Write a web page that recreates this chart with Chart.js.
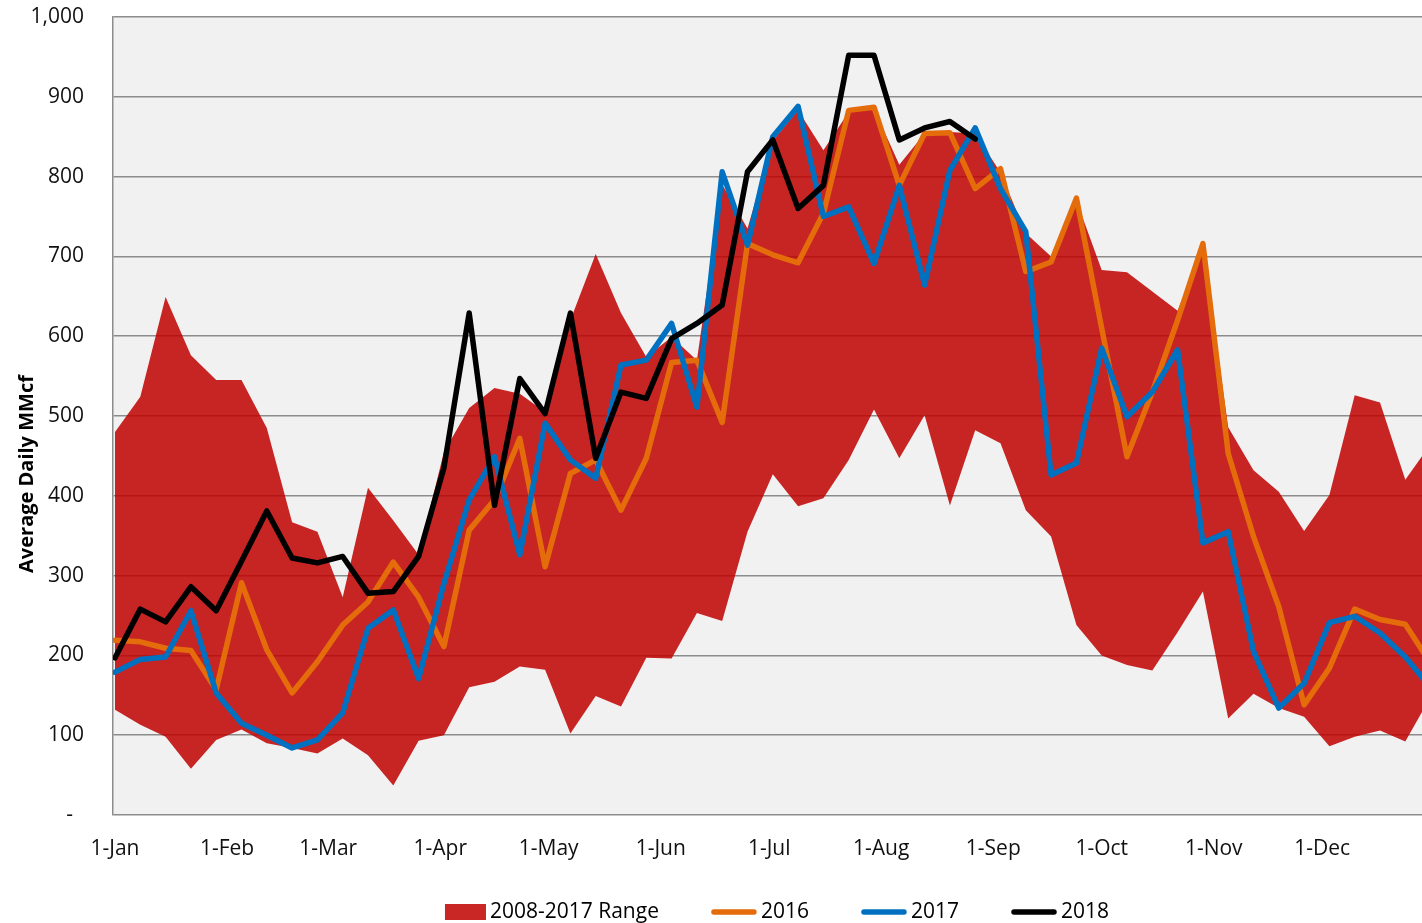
<!DOCTYPE html>
<html>
<head>
<meta charset="utf-8">
<script src="https://cdn.jsdelivr.net/npm/chart.js@4.4.1/dist/chart.umd.min.js"></script>
<style>
  html, body { margin: 0; padding: 0; background: #fff; }
  #wrap { width: 1422px; height: 923px; }
</style>
</head>
<body>
<div id="wrap"><canvas id="storageChart" width="1422" height="923"></canvas></div>
<script>
// weekly values, week 0 = 1-Jan
const rangeHigh = [480, 524, 649, 576, 545, 545, 485, 367, 355, 273, 410, 369, 326, 455, 510, 535, 528, 505, 620, 703, 629, 574, 599, 570, 790, 735, 845, 883, 833, 881, 885, 815, 854, 856, 854, 805, 729, 700, 770, 683, 680, 656, 632, 712, 486, 432, 405, 356, 401, 526, 517, 420, 465]
const rangeLow = [132, 113, 98, 58, 94, 107, 90, 84, 77, 96, 75, 37, 93, 100, 160, 167, 186, 182, 102, 149, 136, 197, 196, 253, 243, 355, 427, 387, 397, 445, 508, 447, 501, 388, 482, 466, 382, 349, 238, 200, 188, 181, 229, 280, 121, 152, 134, 123, 86, 98, 106, 92, 148]
const values2016 = [219, 217, 209, 206, 157, 291, 207, 153, 192, 238, 267, 317, 273, 211, 357, 395, 472, 311, 428, 445, 382, 447, 567, 570, 492, 716, 702, 692, 754, 883, 887, 789, 854, 855, 785, 810, 681, 693, 773, 610, 449, 530, 620, 716, 453, 349, 261, 138, 184, 258, 245, 239, 190]
const values2017 = [179, 195, 198, 256, 153, 115, 100, 84, 94, 128, 234, 257, 171, 290, 395, 449, 326, 491, 445, 422, 564, 570, 616, 511, 806, 714, 850, 888, 750, 762, 691, 789, 664, 808, 861, 785, 731, 426, 441, 585, 499, 530, 583, 341, 355, 205, 134, 165, 241, 249, 228, 198, 160]
const values2018 = [197, 258, 242, 286, 256, 318, 381, 322, 316, 324, 278, 280, 324, 435, 629, 388, 547, 503, 629, 447, 530, 522, 597, 616, 639, 806, 846, 760, 789, 952, 952, 846, 861, 869, 847]

const monthLabels = ['1-Jan', '1-Feb', '1-Mar', '1-Apr', '1-May', '1-Jun', '1-Jul', '1-Aug', '1-Sep', '1-Oct', '1-Nov', '1-Dec']
const monthStartDays = [0, 31, 59, 90, 120, 151, 181, 212, 243, 273, 304, 334]
const yTicks = [0, 100, 200, 300, 400, 500, 600, 700, 800, 900, 1000]

const RANGE_RED = 'rgba(192, 0, 0, 0.85)'
const ORANGE = '#E46C0A'
const BLUE = '#0070C0'
const GRID = '#8c8c8c'
const FONT = "'Open Sans', sans-serif"

Chart.defaults.font.family = FONT
Chart.defaults.color = '#111'

const toPoints = arr => arr.map((v, i) => ({ x: i, y: v }))

const plotBackground = {
  id: 'plotBackground',
  beforeDraw(chart) {
    const { ctx, chartArea: a } = chart
    ctx.save()
    ctx.fillStyle = '#f1f1f1'
    ctx.fillRect(a.left, a.top, a.right - a.left, a.bottom - a.top)
    ctx.restore()
  }
}

// legend and rotated axis title, drawn by hand to match the original spacing
const extras = {
  id: 'extras',
  afterDraw(chart) {
    const ctx = chart.ctx
    ctx.save()

    ctx.font = 'bold 20px ' + FONT
    ctx.fillStyle = '#000'
    ctx.textAlign = 'center'
    ctx.textBaseline = 'middle'
    ctx.translate(27, 474)
    ctx.rotate(-Math.PI / 2)
    ctx.fillText('Average Daily MMcf', 0, 0)
    ctx.setTransform(1, 0, 0, 1, 0, 0)

    const items = chart.data.datasets.filter(d => d.legendType)
    ctx.font = '21px ' + FONT
    const symW = d => d.legendType === 'box' ? 41 : 46
    const widths = items.map(d => symW(d) + 4 + ctx.measureText(d.label).width)
    const total = widths.reduce((s, w) => s + w, 0) + 52 * (items.length - 1)
    let x = 777 - total / 2
    const y = 912
    ctx.textAlign = 'left'
    ctx.textBaseline = 'middle'
    items.forEach((d, i) => {
      if (d.legendType === 'box') {
        ctx.fillStyle = d.backgroundColor
        ctx.fillRect(x, y - 8, 41, 16)
      } else {
        ctx.strokeStyle = d.borderColor
        ctx.lineWidth = 5.5
        ctx.lineCap = 'round'
        ctx.beginPath()
        ctx.moveTo(x + 3, y)
        ctx.lineTo(x + 43, y)
        ctx.stroke()
      }
      ctx.fillStyle = '#000'
      ctx.fillText(d.label, x + symW(d) + 4, y)
      x += widths[i] + 52
    })
    ctx.restore()
  }
}

const lineStyle = (color, order) => ({
  borderColor: color,
  backgroundColor: color,
  borderWidth: 5.5,
  pointRadius: 0,
  borderJoinStyle: 'round',
  borderCapStyle: 'round',
  tension: 0,
  fill: false,
  order: order,
  legendType: 'line'
})

new Chart(document.getElementById('storageChart'), {
  type: 'line',
  data: {
    datasets: [
      {
        label: '2008-2017 Range',
        data: toPoints(rangeHigh),
        borderColor: 'transparent',
        borderWidth: 0,
        backgroundColor: RANGE_RED,
        pointRadius: 0,
        fill: '+1',
        order: 10,
        legendType: 'box'
      },
      {
        label: 'low',
        data: toPoints(rangeLow),
        borderColor: 'transparent',
        borderWidth: 0,
        pointRadius: 0,
        fill: false,
        order: 11
      },
      { label: '2016', data: toPoints(values2016), ...lineStyle(ORANGE, 3) },
      { label: '2017', data: toPoints(values2017), ...lineStyle(BLUE, 2) },
      { label: '2018', data: toPoints(values2018), ...lineStyle('#000', 1) }
    ]
  },
  options: {
    responsive: false,
    animation: false,
    layout: { padding: { top: 17, right: 0, bottom: 0, left: 0 } },
    plugins: {
      legend: { display: false },
      tooltip: { enabled: false }
    },
    scales: {
      x: {
        type: 'linear',
        min: -0.079,
        max: 51.66,
        afterFit: scale => {
          scale.height = 108
          scale.paddingLeft = 0
          scale.paddingRight = 0
        },
        afterBuildTicks: scale => {
          scale.ticks = monthStartDays.map(d => ({ value: d / 7 }))
        },
        grid: { display: false, drawTicks: false },
        border: { display: false },
        ticks: {
          autoSkip: false,
          maxRotation: 0,
          padding: 21,
          font: { size: 21 },
          color: '#111',
          callback: (v, i) => monthLabels[i]
        }
      },
      y: {
        min: 0,
        max: 1000,
        afterFit: scale => {
          scale.width = 113
          scale.paddingTop = 0
          scale.paddingBottom = 0
        },
        afterBuildTicks: scale => {
          scale.ticks = yTicks.map(v => ({ value: v }))
        },
        grid: { color: GRID, lineWidth: 1.5, drawTicks: false },
        border: { display: true, color: GRID, width: 1.5 },
        ticks: {
          padding: 29,
          font: { size: 21 },
          color: '#111',
          callback: v => v === 0 ? '-  ' : v.toLocaleString('en-US')
        }
      }
    }
  },
  plugins: [plotBackground, extras]
})
</script>
</body>
</html>
